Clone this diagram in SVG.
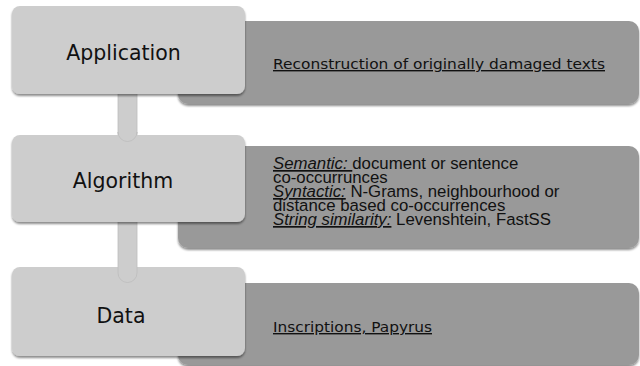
<svg xmlns="http://www.w3.org/2000/svg" width="640" height="366" viewBox="0 0 640 366">
<defs>
<filter id="sh" x="-5%" y="-10%" width="115%" height="130%">
<feDropShadow dx="0" dy="2" stdDeviation="1" flood-color="#000" flood-opacity="0.45"/>
</filter>
<style>
.lt{fill:#cdcdcd;filter:url(#sh)}
.dk{fill:#999999;filter:url(#sh)}
.lbl{font-family:"DejaVu Sans",sans-serif;font-size:20.5px;fill:#111;text-anchor:middle}
.d1{font-family:"DejaVu Sans",sans-serif;font-size:14px;fill:#111;text-decoration:underline}
.d2{font-family:"Liberation Sans",Arial,sans-serif;font-size:16.8px;fill:#111}
.u{text-decoration:underline;font-style:italic}
.con{fill:#cdcdcd;stroke:#bdbdbd;stroke-width:0.8}
</style>
</defs>
<rect width="640" height="366" fill="#fff"/>
<g id="connectors">
<path class="con" d="M118,92 V132 A9.5,9.5 0 0 0 137,132 V92 Z"/>
<path class="con" d="M118,220 V273 A9.5,9.5 0 0 0 137,273 V220 Z"/>
</g>
<g id="app-desc">
<rect class="dk" x="178" y="21" width="461" height="83" rx="10"/>
<text class="d1" x="273" y="69" textLength="332" lengthAdjust="spacingAndGlyphs">Reconstruction of originally damaged texts</text>
</g>
<g id="alg-desc">
<rect class="dk" x="178" y="146" width="461" height="102" rx="10"/>
<text class="d2" x="273" y="169"><tspan class="u">Semantic: </tspan>document or sentence</text>
<text class="d2" x="273" y="183">co-occurrunces</text>
<text class="d2" x="273" y="197"><tspan class="u">Syntactic:</tspan> N-Grams, neighbourhood or</text>
<text class="d2" x="273" y="211">distance based co-occurrences</text>
<text class="d2" x="273" y="225"><tspan class="u">String similarity:</tspan> Levenshtein, FastSS</text>
</g>
<g id="data-desc">
<rect class="dk" x="178" y="283" width="461" height="82" rx="10"/>
<text class="d1" x="273" y="332" textLength="159" lengthAdjust="spacingAndGlyphs">Inscriptions, Papyrus</text>
</g>
<g id="application">
<rect class="lt" x="12" y="6" width="233" height="88" rx="8"/>
<text class="lbl" x="123.5" y="60">Application</text>
</g>
<g id="algorithm">
<rect class="lt" x="12" y="135" width="233" height="87" rx="8"/>
<text class="lbl" x="123" y="188">Algorithm</text>
</g>
<g id="data">
<rect class="lt" x="12" y="267" width="233" height="89" rx="8"/>
<text class="lbl" x="121" y="323">Data</text>
</g>
<g id="connector-tabs">
<path class="con" d="M118,135 V132 A9.5,9.5 0 0 0 137,132 V135"/>
<path class="con" d="M118,267 V273 A9.5,9.5 0 0 0 137,273 V267"/>
</g>
</svg>
